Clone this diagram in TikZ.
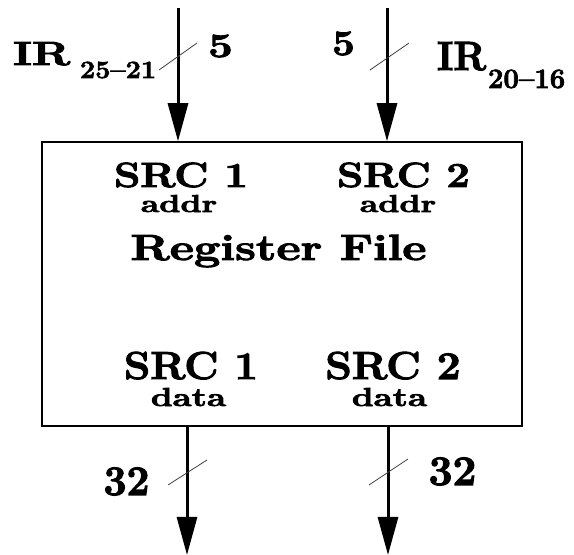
\documentclass[tikz,border=0pt]{standalone}
\usepackage{fontspec}
\setmainfont{Latin Modern Roman}[BoldFeatures={FakeBold=2.6}]
\usetikzlibrary{arrows.meta}
\newcommand\bfsz[1]{\fontsize{#1}{#1}\selectfont\bfseries}
\tikzset{
  bus/.style={line width=3pt, -{Triangle[length=38pt,width=20pt]}},
  busslash/.style={line width=0.8pt, black!75},
  regbox/.style={draw, line width=1.5pt, rectangle, minimum width=480pt, minimum height=284pt, inner sep=0pt},
  lbl/.style={inner sep=0pt, outer sep=0pt, anchor=base}
}
\begin{document}
\begin{tikzpicture}[x=1pt,y=1pt]
\useasboundingbox (0,0) rectangle (574,555);

% register file block
\node[regbox] (rf) at (282,271) {};

% text inside the block
\node[lbl, font=\bfsz{35}, xscale=1.20] (s1a) at (181,368) {SRC 1};
\node[lbl, font=\bfsz{24.5}, xscale=1.38] (a1) at (179,343) {addr};
\node[lbl, font=\bfsz{35}, xscale=1.19] (s2a) at (403.5,368) {SRC 2};
\node[lbl, font=\bfsz{24.5}, xscale=1.38] (a2) at (398,343) {addr};
\node[lbl, font=\bfsz{36.4}, xscale=1.29] (rfname) at (278.5,295) {Register File};
\node[lbl, font=\bfsz{39}, xscale=1.08] (s1d) at (191,176) {SRC 1};
\node[lbl, font=\bfsz{26}, xscale=1.34] (d1) at (188.5,149) {data};
\node[lbl, font=\bfsz{39}, xscale=1.09] (s2d) at (393,176) {SRC 2};
\node[lbl, font=\bfsz{26}, xscale=1.34] (d2) at (389.5,149) {data};

% input buses
\coordinate (in1) at (178,547);
\coordinate (in2) at (387,547);
\draw[bus] (in1) -- (in1 |- rf.north);
\draw[bus] (in2) -- (in2 |- rf.north);
\draw[busslash] (159,485) -- (197,512);
\draw[busslash] (370,485) -- (409,512);

% output buses
\coordinate (out1) at (187,0);
\coordinate (out2) at (388,0);
\draw[bus] (out1 |- rf.south) -- (out1);
\draw[bus] (out2 |- rf.south) -- (out2);
\draw[busslash] (168,70) -- (207,95);
\draw[busslash] (369,70) -- (408,96);

% bus labels
\node[lbl, anchor=base west, font=\bfsz{33.5}, xscale=1.36] (ir1) at (13,490) {IR};
\node[lbl, anchor=base west, font=\bfsz{24.8}, xscale=1.09] (ir1s) at (80,477) {25--21};
\node[lbl, font=\bfsz{34}, xscale=1.28] (w1) at (220.5,498) {5};
\node[lbl, font=\bfsz{35.7}, xscale=1.12] (w2) at (343.5,500) {5};
\node[lbl, anchor=base west, font=\bfsz{40.8}, xscale=0.96] (ir2) at (437,485) {IR};
\node[lbl, anchor=base west, font=\bfsz{28}, xscale=0.98] (ir2s) at (488,467) {20--16};
\node[lbl, font=\bfsz{42}, xscale=0.97] (w3) at (126.5,60) {32};
\node[lbl, font=\bfsz{42}, xscale=1.01] (w4) at (452.5,70) {32};
\end{tikzpicture}
\end{document}
